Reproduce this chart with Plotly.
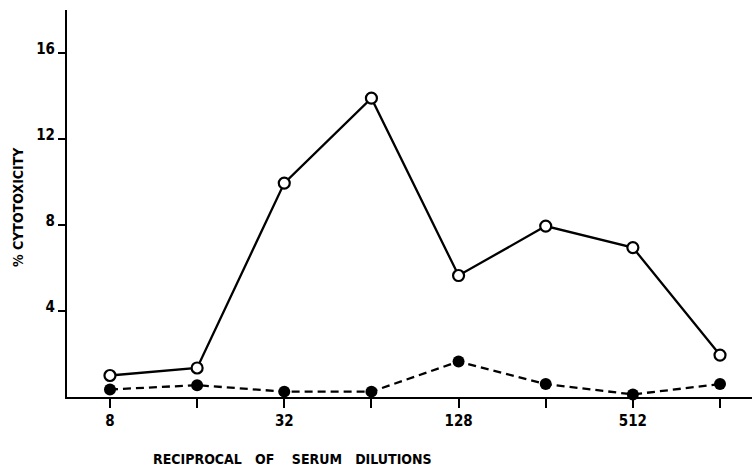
import math
import plotly.graph_objects as go

dilutions = [8, 16, 32, 64, 128, 256, 512, 1024]
open_series = [1.0, 1.35, 9.95, 13.9, 5.65, 7.95, 6.95, 1.95]
filled_series = [0.35, 0.55, 0.25, 0.25, 1.65, 0.6, 0.12, 0.6]
x_tick_text = ["<b>8</b>", "", "<b>32</b>", "", "<b>128</b>", "", "<b>512</b>", ""]
y_ticks = [4, 8, 12, 16]
y_tick_text = ["<b>4</b>", "<b>8</b>", "<b>12</b>", "<b>16</b>"]

FONT = "DejaVu Sans Condensed, Liberation Sans Narrow, Roboto, sans-serif"

fig = go.Figure()
fig.add_trace(go.Scatter(
    x=dilutions, y=filled_series, mode="lines+markers",
    line=dict(color="black", width=2.3, dash="8px,5px"),
    marker=dict(symbol="circle", size=12, color="black"),
    showlegend=False, cliponaxis=False,
))
fig.add_trace(go.Scatter(
    x=dilutions, y=open_series, mode="lines+markers",
    line=dict(color="black", width=2.3),
    marker=dict(symbol="circle", size=11, color="white",
                line=dict(color="black", width=2.2)),
    showlegend=False, cliponaxis=False,
))

lo = math.log10(2) * 2.507
hi = math.log10(2) * 10.367

fig.update_layout(
    width=752, height=468,
    margin=dict(l=67, r=0, t=10, b=71),
    paper_bgcolor="white", plot_bgcolor="white",
    font=dict(family=FONT, size=15, color="black"),
    xaxis=dict(
        type="log", range=[lo, hi],
        tickvals=dilutions, ticktext=x_tick_text,
        ticks="outside", ticklen=9, tickwidth=1.5, tickcolor="black",
        showline=True, linecolor="black", linewidth=2,
        showgrid=False, zeroline=False,
        tickfont=dict(family=FONT, size=15, color="black"),
    ),
    yaxis=dict(
        range=[0, 18], tickvals=y_ticks, ticktext=y_tick_text,
        ticks="outside", ticklen=7, tickwidth=1.5, tickcolor="black",
        showline=True, linecolor="black", linewidth=2,
        showgrid=False, zeroline=False,
        ticklabelshift=-4,
        tickfont=dict(family=FONT, size=15, color="black"),
    ),
    annotations=[
        dict(text="<b>RECIPROCAL\u00a0\u00a0 OF\u00a0\u00a0\u00a0 SERUM\u00a0\u00a0 DILUTIONS</b>",
             xref="paper", yref="paper", x=(292 - 67) / 685, y=-(459 - 397) / 387,
             xanchor="center", yanchor="middle", showarrow=False,
             font=dict(family=FONT, size=14, color="black")),
        dict(text="<b>% CYTOTOXICITY</b>", textangle=-90,
             xref="paper", yref="paper", x=-(67 - 18) / 685, y=(397 - 207) / 387,
             xanchor="center", yanchor="middle", showarrow=False,
             font=dict(family=FONT, size=14, color="black")),
    ],
)

fig.write_html("out.html")
